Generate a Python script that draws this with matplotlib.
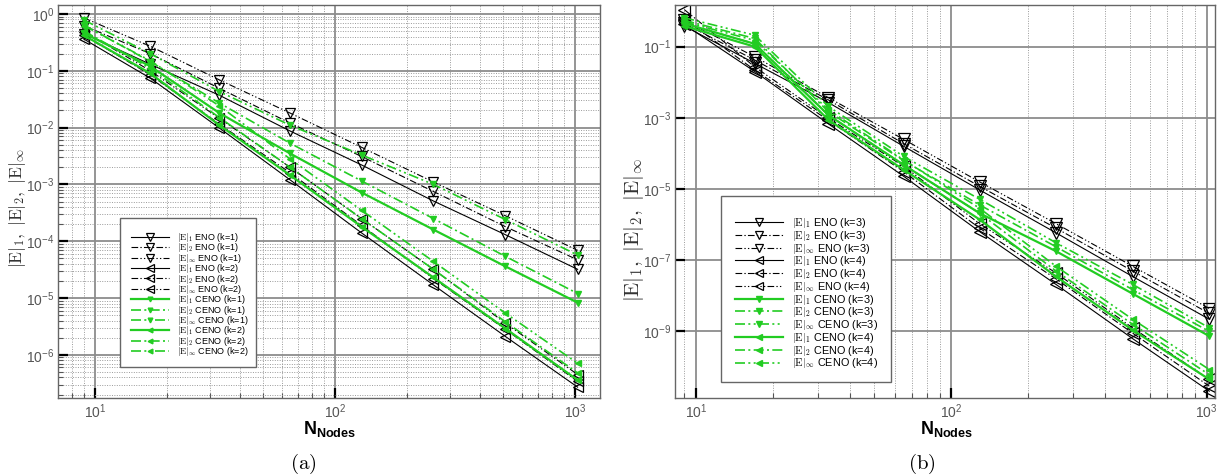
import matplotlib
matplotlib.use("Agg")
import matplotlib.pyplot as plt
from matplotlib.ticker import LogLocator, FixedLocator, NullLocator, NullFormatter
from matplotlib.patches import Rectangle
from matplotlib.font_manager import FontProperties

plt.rcParams['font.family'] = ['Liberation Sans', 'DejaVu Sans']
plt.rcParams['mathtext.fontset'] = 'custom'
plt.rcParams['mathtext.rm'] = 'Liberation Sans'
plt.rcParams['mathtext.bf'] = 'Liberation Sans:bold'
plt.rcParams['mathtext.it'] = 'Liberation Sans:italic'

# ---- data ----
N = [9, 17, 33, 65, 129, 257, 513, 1025]

# panel (a)
eno1_l1 = [0.45, 0.13, 0.037, 0.0087, 0.0022, 5.1e-4, 1.3e-4, 3.2e-5]
eno1_l2 = [0.62, 0.20, 0.049, 0.012, 0.0031, 7.5e-4, 1.8e-4, 4.7e-5]
eno1_li = [0.85, 0.27, 0.069, 0.018, 0.0045, 1.1e-3, 2.8e-4, 6.9e-5]
eno2_l1 = [0.36, 0.074, 0.0098, 1.2e-3, 1.4e-4, 1.7e-5, 2.1e-6, 2.7e-7]
eno2_l2 = [0.42, 0.085, 0.0115, 1.6e-3, 1.9e-4, 2.2e-5, 2.8e-6, 3.4e-7]
eno2_li = [0.49, 0.10, 0.0145, 2.0e-3, 2.5e-4, 3.2e-5, 3.6e-6, 4.5e-7]
ceno1_l1 = [0.46, 0.12, 0.018, 3.5e-3, 7.2e-4, 1.6e-4, 3.6e-5, 8.3e-6]
ceno1_l2 = [0.64, 0.145, 0.027, 5.3e-3, 1.15e-3, 2.5e-4, 5.4e-5, 1.2e-5]
ceno1_li = [0.78, 0.20, 0.043, 0.011, 3.3e-3, 1.0e-3, 2.4e-4, 5.7e-5]
ceno2_l1 = [0.42, 0.09, 0.011, 1.45e-3, 1.8e-4, 2.3e-5, 2.9e-6, 3.6e-7]
ceno2_l2 = [0.50, 0.11, 0.015, 2.0e-3, 2.5e-4, 3.2e-5, 3.8e-6, 4.8e-7]
ceno2_li = [0.62, 0.15, 0.024, 2.8e-3, 3.5e-4, 4.4e-5, 5.4e-6, 7.1e-7]

# panel (b)
eno3_l1 = [0.38, 0.034, 2.7e-3, 1.6e-4, 9.5e-6, 5.9e-7, 3.5e-8, 2.2e-9]
eno3_l2 = [0.45, 0.042, 3.2e-3, 1.9e-4, 1.2e-5, 8.0e-7, 5.0e-8, 3.2e-9]
eno3_li = [0.55, 0.052, 3.7e-3, 2.5e-4, 1.6e-5, 1.07e-6, 6.8e-8, 4.4e-9]
eno4_l1 = [0.42, 0.020, 6.8e-4, 2.3e-5, 6.4e-7, 2.1e-8, 6.3e-10, 2.1e-11]
eno4_l2 = [0.60, 0.022, 8.5e-4, 3.1e-5, 8.0e-7, 3.0e-8, 9.0e-10, 2.9e-11]
eno4_li = [1.10, 0.027, 9.8e-4, 4.4e-5, 1.07e-6, 4.4e-8, 1.26e-9, 4.5e-11]
ceno3_l1 = [0.45, 0.12, 1.2e-3, 4.8e-5, 2.1e-6, 1.8e-7, 1.15e-8, 7.4e-10]
ceno3_l2 = [0.55, 0.17, 1.5e-3, 6.3e-5, 3.6e-6, 2.4e-7, 1.5e-8, 1.0e-9]
ceno3_li = [0.65, 0.21, 2.1e-3, 8.3e-5, 5.2e-6, 3.1e-7, 2.1e-8, 1.26e-9]
ceno4_l1 = [0.38, 0.10, 8.8e-4, 3.5e-5, 1.4e-6, 3.5e-8, 1.1e-9, 4.5e-11]
ceno4_l2 = [0.45, 0.12, 1.2e-3, 4.8e-5, 2.1e-6, 5.0e-8, 1.6e-9, 6.1e-11]
ceno4_li = [0.50, 0.15, 1.7e-3, 6.6e-5, 2.9e-6, 6.8e-8, 2.2e-9, 8.5e-11]

yticks_a = [1e0, 1e-1, 1e-2, 1e-3, 1e-4, 1e-5, 1e-6]
yticks_b = [1e-1, 1e-3, 1e-5, 1e-7, 1e-9]
xticks = [1e1, 1e2, 1e3]

GREEN = '#22cc22'
LS1 = '-'
LS2 = (0, (6, 2, 1.2, 2))
LS3 = (0, (6, 2, 1.2, 2, 1.2, 2))
NORMS = [(r'$|\mathrm{E}|_1$', LS1), (r'$|\mathrm{E}|_2$', LS2), (r'$|\mathrm{E}|_\infty$', LS3)]

W, H = 1221, 476
fig = plt.figure(figsize=(W / 100, H / 100), dpi=100)


def px_axes(x0, y0, x1, y1):
    return fig.add_axes([x0 / W, 1 - y1 / H, (x1 - x0) / W, (y1 - y0) / H])


def fx(x):
    return x / W


def fy(y):
    return 1 - y / H


def draw_series(ax, groups, ms_open, ms_fill):
    handles = []
    for scheme, k, marker, sets in groups:
        for (nlab, ls), vals in zip(NORMS, sets):
            if scheme == 'ENO':
                h, = ax.plot(N, vals, color='black', lw=0.8, ls=ls, marker=marker,
                             ms=ms_open, mfc='none', mec='black', mew=0.9, zorder=2)
            else:
                h, = ax.plot(N, vals, color=GREEN, lw=1.6 if ls == LS1 else 1.2, ls=ls,
                             marker=marker, ms=ms_fill, mfc=GREEN, mec=GREEN, zorder=3)
            h.set_label(f'{nlab} {scheme} (k={k})')
            handles.append(h)
    return handles


def style_axes(ax, xlim, ylim, yticks):
    ax.set_xscale('log')
    ax.set_yscale('log')
    ax.set_xlim(*xlim)
    ax.set_ylim(*ylim)
    ax.set_axisbelow(True)
    for s in ax.spines.values():
        s.set_color('#666666')
        s.set_linewidth(1.0)
    ax.xaxis.set_major_locator(FixedLocator(xticks))
    ax.yaxis.set_major_locator(FixedLocator(yticks))
    ax.tick_params(which='major', direction='in', length=7, width=1.6, color='black',
                   labelcolor='#555555', labelsize=10, pad=3)
    ax.tick_params(which='minor', direction='in', length=3.5, width=0.8, color='#555555')
    ax.xaxis.set_minor_locator(LogLocator(base=10, subs=range(2, 10), numticks=20))
    ax.xaxis.set_minor_formatter(NullFormatter())


# ---------------- panel (a) ----------------
axa = px_axes(58.3, 5, 600, 398)
style_axes(axa, (10 ** 0.847, 10 ** 3.104), (10 ** -6.76, 10 ** 0.158), yticks_a)
axa.yaxis.set_minor_locator(LogLocator(base=10, subs=range(2, 10), numticks=20))
axa.yaxis.set_minor_formatter(NullFormatter())
axa.grid(which='major', color='#8c8c8c', lw=1.3, ls='-')
axa.grid(which='minor', color='#9a9a9a', lw=0.7, ls=(0, (1, 1.5)))
ha = draw_series(axa, [
    ('ENO', 1, 'v', [eno1_l1, eno1_l2, eno1_li]),
    ('ENO', 2, '<', [eno2_l1, eno2_l2, eno2_li]),
    ('CENO', 1, 'v', [ceno1_l1, ceno1_l2, ceno1_li]),
    ('CENO', 2, '<', [ceno2_l1, ceno2_l2, ceno2_li]),
], ms_open=7.5, ms_fill=4.5)

# ---------------- panel (b) ----------------
axb = px_axes(675.3, 5, 1215, 398)
style_axes(axb, (10 ** 0.919, 10 ** 3.033), (10 ** -10.87, 10 ** 0.171), yticks_b)
axb.yaxis.set_minor_locator(NullLocator())
axb.grid(which='major', color='#8c8c8c', lw=1.3, ls='-')
axb.grid(which='minor', axis='x', color='#9a9a9a', lw=0.7, ls=(0, (1, 1.5)))
hb = draw_series(axb, [
    ('ENO', 3, 'v', [eno3_l1, eno3_l2, eno3_li]),
    ('ENO', 4, '<', [eno4_l1, eno4_l2, eno4_li]),
    ('CENO', 3, 'v', [ceno3_l1, ceno3_l2, ceno3_li]),
    ('CENO', 4, '<', [ceno4_l1, ceno4_l2, ceno4_li]),
], ms_open=8, ms_fill=5)

# ---------------- legends (white box + frameless legend) ----------------
for ax, handles, box, anchor, size, hl, sp in [
    (axa, ha, (120, 218, 256, 367), (131, 231), 6.5, 4.2, -0.29),
    (axb, hb, (721, 196, 891, 382), (735, 216), 7.8, 4.4, -0.115),
]:
    x0, y0, x1, y1 = box
    rect = Rectangle((fx(x0), fy(y1)), fx(x1) - fx(x0), fy(y0) - fy(y1),
                     transform=fig.transFigure, facecolor='white', edgecolor='#666666',
                     lw=1.0, zorder=4)
    ax.add_patch(rect)
    leg = ax.legend(handles=handles, loc='upper left',
                    bbox_to_anchor=(fx(anchor[0]), fy(anchor[1])),
                    bbox_transform=fig.transFigure, frameon=False, borderpad=0,
                    borderaxespad=0, handlelength=hl, handletextpad=0.9, labelspacing=sp,
                    markerscale=0.75,
                    prop=FontProperties(family='Liberation Sans', size=size, math_fontfamily='cm'))
    leg.set_zorder(5)

# ---------------- axis titles & captions ----------------
for xc, lab_x, lab_y, ysize in [(330, 18, 208, 12.5), (947, 634, 230, 15)]:
    fig.text(fx(xc), fy(429), r'$\mathbf{N}_{\mathbf{Nodes}}$', ha='center', va='center',
             fontsize=13)
    fig.text(fx(lab_x), fy(lab_y), r'$|\mathrm{E}|_1,\ |\mathrm{E}|_2,\ |\mathrm{E}|_\infty$',
             rotation=90, ha='center', va='center', fontsize=ysize, color='#333333',
             math_fontfamily='cm')

fig.text(fx(303), fy(464), r'$\mathrm{(a)}$', ha='center', va='center', fontsize=15,
         math_fontfamily='cm')
fig.text(fx(922), fy(464), r'$\mathrm{(b)}$', ha='center', va='center', fontsize=15,
         math_fontfamily='cm')

fig.savefig('out.png', dpi=100)
